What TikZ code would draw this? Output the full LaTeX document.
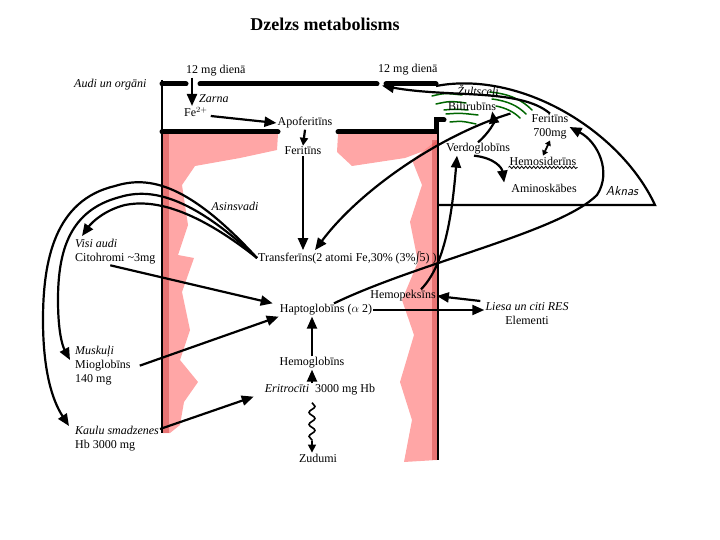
\documentclass[tikz,border=0pt]{standalone}
\usepackage{fontspec}
\setmainfont{Liberation Serif}
\usepackage{amsmath}
\usetikzlibrary{arrows.meta, decorations.pathmorphing}

\begin{document}
\begin{tikzpicture}[x=1pt, y=-1pt, font=\fontsize{12}{14}\selectfont,
    every node/.style={inner sep=1pt},
    organ/.style={align=left, anchor=north west},
    wall/.style={line width=5pt, line cap=round},
    flow/.style={-{Triangle[length=12pt,width=10pt]}, line width=2.2pt},
    bile/.style={green!40!black, line width=1.5pt, line cap=round},
    marker/.style={fill=red!50!white, draw=none, opacity=0.7}]
    \useasboundingbox (0,0) rectangle (720,540);

    % Red vessel walls
    \fill[marker] (163,134) -- (278,134) -- (277,150) -- (240,158) -- (195,166) -- (182,185)
        -- (188,225) -- (178,255) -- (194,258) -- (182,292) -- (190,330) -- (180,360)
        -- (198,382) -- (184,402) -- (180,425) -- (170,433) -- (163,433) -- cycle;
    \fill[marker] (338,134) -- (437,134) -- (437,146) -- (405,158) -- (352,166) -- (337,152) -- cycle;
    \fill[marker] (437,140) -- (437,460) -- (404,462) -- (412,420) -- (400,382) -- (414,335)
        -- (402,300) -- (418,262) -- (410,222) -- (422,185) -- (412,160) -- cycle;
    \fill[red!70!black, opacity=0.3] (163,134) rectangle (169,433);
    \fill[red!70!black, opacity=0.3] (432,140) rectangle (437,460);

    % Bile ducts
    \draw[bile] (432,96) .. controls (445,93) .. (462,95);
    \draw[bile] (436,104) .. controls (450,101) .. (466,103);
    \draw[bile] (490,92) .. controls (510,94) and (522,100) .. (532,110);
    \draw[bile] (492,99) .. controls (508,101) and (518,106) .. (526,114);
    \draw[bile] (496,106) .. controls (506,108) and (514,112) .. (520,118);
    \draw[bile] (446,114) .. controls (460,113) .. (478,115);
    \draw[bile] (450,122) .. controls (462,121) .. (476,124);
    \draw[bile] (444,110) .. controls (455,109) .. (468,110);

    % Vessels
    \draw[line width=1.5pt] (162,80) -- (162,433);
    \draw[line width=2pt] (438,118) -- (438,460);
    \draw[wall] (162,84) -- (186,84);
    \draw[wall] (200,84) -- (377,84);
    \draw[wall] (386,84) -- (436,84);
    \draw[wall] (162,132) -- (278,132);
    \draw[wall] (338,132) -- (436,132) -- (436,120) -- (444,120);

    % Liver
    \draw[line width=2.2pt] (436,86) .. controls (520,70) and (620,130) .. (655,205) -- (438,205);

    % Labels
    \node (title) at (325,24) {\fontsize{18}{20}\selectfont\bfseries Dzelzs metabolisms};
    \node[anchor=west] (audi) at (73,85) {\itshape Audi un orgāni};
    \node[anchor=west] (dien1) at (185,71) {12 mg dienā};
    \node[anchor=west] (dien2) at (377,70) {12 mg dienā};
    \node[anchor=west] (zarna) at (198,99) {\itshape Zarna};
    \node[anchor=west] (fe) at (183,112) {Fe$^{2+}$};
    \node (apo) at (305,123) {Apoferitīns};
    \node (ferit) at (303,151) {Feritīns};
    \node (asins) at (235,206) {\itshape Asinsvadi};
    \node[anchor=west] (transf) at (257,258) {Transferīns(2 atomi Fe,30\% (3\%$\!\int\!$5) )};
    \node (hapto) at (326,310) {Haptoglobīns ($\alpha$ 2)};
    \node (hemopek) at (403,296) {Hemopeksīns};
    \node[align=center, anchor=north] (liesa) at (527,301) {\itshape Liesa un citi RES\\Elementi};
    \node (hemogl) at (312,363) {Hemoglobīns};
    \node (eritr) at (320,390) {\itshape Eritrocīti\upshape\ \ 3000 mg Hb};
    \node (zud) at (318,458) {Zudumi};
    \node[organ] (visi) at (74,238) {\itshape Visi audi\\Citohromi \textasciitilde3mg};
    \node[organ] (musk) at (74,345) {\itshape Muskuļi\\Mioglobīns\\140 mg};
    \node[organ] (kaulu) at (74,425) {\itshape Kaulu smadzenes\\Hb 3000 mg};
    \node (zult) at (478,92) {\itshape Žultsceļi};
    \node (bili) at (472,106) {Bilirubīns};
    \node[align=center] (aknferit) at (550,127) {Feritīns\\700mg};
    \node (verdo) at (478,149) {Verdoglobīns};
    \node (hemosid) at (543,161) {Hemosiderīns};
    \node (amino) at (544,188) {Aminoskābes};
    \node (aknas) at (622,191) {\fontsize{13}{15}\selectfont\sffamily\itshape Aknas};
    \draw[line width=0.8pt, decorate, decoration={snake, amplitude=1.2pt, segment length=4pt}]
        ([yshift=-1pt]hemosid.south west) -- ([yshift=-1pt]hemosid.south east);

    % Absorption
    \draw[flow] ([xshift=7pt]dien1.south west) -- ([xshift=9pt]fe.north west);
    \draw[flow] ([xshift=2pt,yshift=-4pt]fe.east) -- (apo.west);
    \draw[flow, -{Triangle[length=8pt,width=8pt]}] (apo.south) -- (ferit.north);
    \draw[flow] (ferit.south) -- (ferit.south |- transf.north);

    % Transferins to organs
    \draw[flow] (transf.west) .. controls (190,205) and (150,200) .. (125,205)
        .. controls (105,210) and (92,222) .. (82,236);
    \draw[flow] (transf.west) .. controls (190,195) and (150,188) .. (120,197)
        .. controls (70,210) and (58,250) .. (58,300) .. controls (58,330) and (62,345) .. (70,360);
    \draw[flow] (transf.west) .. controls (190,185) and (150,175) .. (115,186)
        .. controls (55,200) and (43,260) .. (43,320) .. controls (43,370) and (52,400) .. (69,426);

    % Organs to blood
    \draw[flow] ([xshift=-5pt]visi.south) -- ([xshift=-6pt]hapto.north west);
    \draw[flow] ([xshift=8pt]musk.east) -- (hapto.south west);
    \draw[flow] ([yshift=-4pt]kaulu.north east) -- ([xshift=-10pt]eritr.south west);
    \draw[flow] (hemogl.south |- eritr.north) -- (hemogl.south);
    \draw[flow] (hemogl.north) -- (hemogl.north |- hapto.south);
    \draw[line width=1.6pt, decorate, decoration={snake, amplitude=3pt, segment length=12pt}]
        ([yshift=-6pt]hemogl.south |- eritr.south) -- ([yshift=12pt]hemogl.south |- zud.north);
    \draw[-{Triangle[length=8pt,width=8pt]}, line width=1.6pt]
        ([yshift=12pt]hemogl.south |- zud.north) -- (hemogl.south |- zud.north);

    % RES and liver
    \draw[flow] (hapto.east) -- (hapto.east -| liesa.west);
    \draw[flow] ([xshift=-4pt]liesa.north west) -- (hemopek.east);
    \draw[flow] ([xshift=18pt]hemopek.north) .. controls (445,265) and (452,215) .. ([xshift=-21pt]verdo.south);
    \draw[flow] ([xshift=8pt]hapto.north) .. controls (420,262) and (560,232) .. (597,195)
        .. controls (612,172) and (598,142) .. (aknferit.east);
    \draw[flow] ([xshift=-20pt]aknferit.north west) .. controls (440,135) and (360,190) .. ([xshift=58pt]transf.north west);
    \draw[flow] (verdo.north) .. controls (490,132) and (494,122) .. ([xshift=-5pt]bili.south east);
    \draw[flow] ([xshift=-4pt]verdo.south) .. controls (495,158) and (502,168) .. ([xshift=-6pt]amino.north west);
    \draw[flow] (aknferit.north) .. controls (520,88) and (450,98) .. ([xshift=5pt,yshift=-9pt]dien2.south west);
    \draw[{Triangle[length=5pt,width=6pt]}-{Triangle[length=5pt,width=6pt]}, line width=1.8pt]
        (aknferit.south) -- (hemosid.north);
\end{tikzpicture}
\end{document}
